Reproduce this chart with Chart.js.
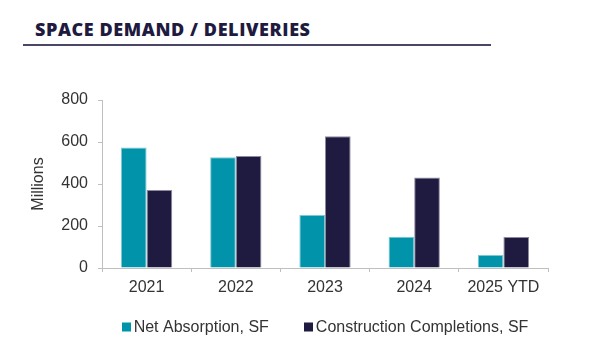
<!DOCTYPE html>
<html>
<head>
<meta charset="utf-8">
<script src="https://cdn.jsdelivr.net/npm/chart.js@4.4.1/dist/chart.umd.min.js"></script>
<style>
  html, body { margin: 0; padding: 0; background: #fff; }
  #wrap { position: relative; width: 591px; height: 357px; overflow: hidden; }
  #title { position: absolute; left: 35px; top: 17px; font-family: "Open Sans", "Liberation Sans", sans-serif;
           font-weight: 800; font-size: 18px; color: #1f1a40; white-space: nowrap; }
  #rule { position: absolute; left: 23px; top: 44px; width: 468px; height: 2px; background: #4a4766; }
  #c { position: absolute; left: 0; top: 0; }
</style>
</head>
<body>
<div id="wrap">
  <div id="title">SPACE DEMAND / DELIVERIES</div>
  <div id="rule"></div>
  <canvas id="c" width="591" height="357"></canvas>
</div>
<script>
const categories = ["2021", "2022", "2023", "2024", "2025 YTD"];
const netAbsorption = [574, 527, 252, 149, 62];
const constructionCompletions = [371, 533, 627, 431, 148];
const seriesLabels = ["Net Absorption, SF", "Construction Completions, SF"];
const yTicks = [0, 200, 400, 600, 800];

const TEAL = "#0093a9";
const NAVY = "#1f1a40";
const AXIS = "#bfbfbf";
const TXT = "#333333";
const FONT = "'Liberation Sans', Arial, sans-serif";

// fit title width to reference (~275px)
(function () {
  const t = document.getElementById("title");
  const w = t.getBoundingClientRect().width;
  const n = t.textContent.length - 1;
  t.style.letterSpacing = ((275 - w) / n).toFixed(2) + "px";
})();

const legendPlugin = {
  id: "customLegend",
  afterDraw(chart) {
    const ctx = chart.ctx;
    const ds = chart.data.datasets;
    ctx.save();
    ctx.font = "16px " + FONT;
    ctx.textBaseline = "middle";
    const box = 9, gapText = 3, gapItem = 35;
    const widths = ds.map(d => box + gapText + ctx.measureText(d.label).width);
    const total = widths.reduce((a, b) => a + b, 0) + gapItem * (ds.length - 1);
    const ca = chart.chartArea;
    let x = (ca.left + ca.right) / 2 - total / 2;
    const y = 327;
    ds.forEach((d, i) => {
      ctx.fillStyle = d.backgroundColor;
      ctx.fillRect(Math.round(x), y - 4.5, box, box);
      ctx.fillStyle = TXT;
      ctx.fillText(d.label, x + box + gapText, y + 0.5);
      x += widths[i] + gapItem;
    });
    ctx.restore();
  }
};

new Chart(document.getElementById("c"), {
  type: "bar",
  data: {
    labels: categories,
    datasets: [
      { label: seriesLabels[0], data: netAbsorption, backgroundColor: TEAL, borderColor: "#7cc8d4", borderWidth: 1,
        categoryPercentage: 0.575, barPercentage: 1 },
      { label: seriesLabels[1], data: constructionCompletions, backgroundColor: NAVY, borderColor: "#8d8aa0", borderWidth: 1,
        categoryPercentage: 0.575, barPercentage: 1 }
    ]
  },
  options: {
    responsive: false,
    animation: false,
    devicePixelRatio: 1,
    layout: { padding: { left: 29, right: 43, top: 100, bottom: 0 } },
    plugins: { legend: { display: false }, title: { display: false }, tooltip: { enabled: false } },
    scales: {
      x: {
        grid: { display: true, drawOnChartArea: false, color: AXIS, tickLength: 4, offset: true },
        border: { display: true, color: AXIS, width: 1 },
        ticks: { color: TXT, font: { family: FONT, size: 16 }, padding: 6, maxRotation: 0 },
        afterFit(scale) { scale.height = 89; }
      },
      y: {
        min: 0, max: 800,
        afterBuildTicks(scale) { scale.ticks = yTicks.map(v => ({ value: v })); },
        grid: { display: true, drawOnChartArea: false, color: AXIS, tickLength: 4 },
        border: { display: true, color: AXIS, width: 1 },
        ticks: { color: TXT, font: { family: FONT, size: 16 }, padding: 10 },
        title: { display: true, text: "Millions", color: TXT, font: { family: FONT, size: 16 }, padding: { top: 0, bottom: 4 } },
        afterFit(scale) { scale.width = 73; }
      }
    }
  },
  plugins: [legendPlugin]
});
</script>
</body>
</html>
